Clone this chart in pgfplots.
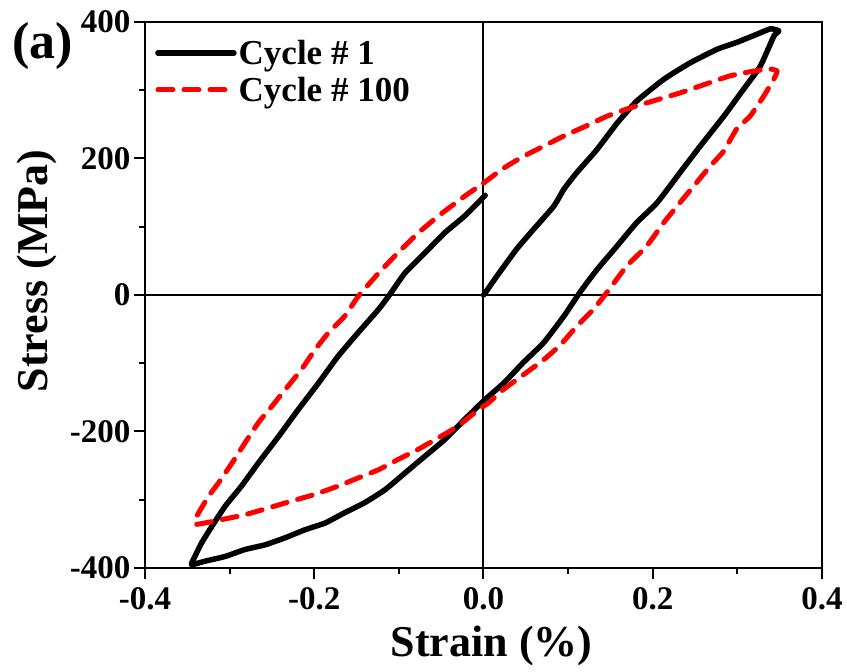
\documentclass[border=0pt]{standalone}
\usepackage{fontspec}
\setmainfont{Liberation Serif}
\usepackage{pgfplots}
\pgfplotsset{compat=1.18}
\begin{document}
\begin{tikzpicture}
\useasboundingbox (-145pt,-104pt) rectangle (702pt,568pt);
\begin{axis}[
  at={(0pt,0pt)}, anchor=south west,
  scale only axis, width=677pt, height=546pt,
  xmin=-0.4, xmax=0.4, ymin=-400, ymax=400,
  xtick={-0.4,-0.2,0,0.2,0.4}, ytick={-400,-200,0,200,400},
  minor x tick num=1, minor y tick num=1,
  tick align=outside, xtick pos=bottom, ytick pos=left,
  major tick length=11pt, minor tick length=6pt,
  every tick/.style={black, line width=2pt},
  axis line style={line width=2pt},
  /pgf/number format/assume math mode=true,
  tick label style={font=\fontsize{33}{33}\selectfont\bfseries},
  xticklabel style={/pgf/number format/.cd, fixed, fixed zerofill, precision=1, /tikz/yshift=-5pt},
  yticklabel style={/pgf/number format/.cd, fixed, precision=0},
  xlabel={Strain (\%)}, ylabel={Stress (MPa)},
  label style={font=\fontsize{44}{44}\selectfont\bfseries},
  xlabel style={at={(axis description cs:0.512,-0.143)}, anchor=center},
  ylabel style={at={(axis description cs:-0.1595,0.544)}, anchor=center},
  legend style={at={(axis description cs:0,1)}, anchor=north west, draw=none, fill=none,
    font=\fontsize{35}{35}\selectfont\bfseries, row sep=7pt, inner xsep=10pt, inner ysep=16pt},
  legend cell align=left,
  legend image code/.code={\draw[#1] (0pt,0pt) -- (76pt,0pt);},
]
\addplot[forget plot, black, line width=2pt] coordinates {(0,-400) (0,400)};
\addplot[forget plot, black, line width=2pt] coordinates {(-0.4,0) (0.4,0)};
\addplot[black, line width=5.5pt, line join=round, line cap=round, smooth, tension=0.3] coordinates {
(0,0) (0.002,3) (0.016,28) (0.039,67) (0.059,96) (0.083,130) (0.095,155) (0.110,179) (0.134,213) (0.158,252) (0.181,284) (0.213,316) (0.244,340) (0.276,360) (0.299,370) (0.323,382) (0.339,390) (0.349,387) (0.343,379) (0.327,335) (0.307,301) (0.284,262) (0.256,218) (0.232,179) (0.205,135) (0.181,106) (0.158,72) (0.134,37) (0.114,4) (0.095,-31) (0.071,-70) (0.047,-99) (0.024,-129) (0.002,-153) (-0.022,-182) (-0.046,-212) (-0.069,-236) (-0.093,-261) (-0.116,-285) (-0.140,-304) (-0.164,-319) (-0.187,-334) (-0.211,-344) (-0.235,-356) (-0.258,-366) (-0.282,-373) (-0.305,-383) (-0.329,-390) (-0.345,-395) (-0.341,-383) (-0.333,-363) (-0.321,-339) (-0.305,-309) (-0.286,-280) (-0.266,-246) (-0.242,-207) (-0.219,-168) (-0.195,-129) (-0.172,-90) (-0.148,-55) (-0.124,-21) (-0.110,2) (-0.093,32) (-0.069,62) (-0.046,91) (-0.022,116) (0.002,146)
};
\addlegendentry{Cycle \# 1}
\addplot[red, line width=5pt, line join=round, line cap=round, dash pattern=on 15pt off 11pt, smooth, tension=0.3] coordinates {
(0,164) (0.024,186) (0.047,203) (0.071,218) (0.095,233) (0.122,248) (0.146,262) (0.173,274) (0.205,286) (0.232,296) (0.260,308) (0.291,321) (0.319,328) (0.339,331) (0.347,328) (0.343,316) (0.331,291) (0.315,262) (0.299,243) (0.284,211) (0.268,189) (0.248,159) (0.232,135) (0.213,106) (0.193,72) (0.169,42) (0.146,4) (0.130,-21) (0.110,-46) (0.091,-73) (0.071,-95) (0.047,-117) (0.024,-138) (0.006,-158) (-0.006,-168) (-0.030,-192) (-0.053,-209) (-0.077,-226) (-0.101,-241) (-0.124,-256) (-0.148,-268) (-0.172,-280) (-0.199,-292) (-0.227,-302) (-0.254,-312) (-0.282,-322) (-0.309,-329) (-0.339,-336) (-0.341,-329) (-0.325,-295) (-0.313,-275) (-0.297,-246) (-0.282,-217) (-0.266,-187) (-0.250,-163) (-0.234,-138) (-0.215,-109) (-0.199,-80) (-0.183,-55) (-0.164,-31) (-0.148,-2) (-0.124,32) (-0.101,62) (-0.077,91) (-0.053,116) (-0.022,145) (0,164)
};
\addlegendentry{Cycle \# 100}
\end{axis}
\node[font=\fontsize{52}{52}\selectfont\bfseries] at (-102pt,522pt) {(a)};
\end{tikzpicture}
\end{document}
